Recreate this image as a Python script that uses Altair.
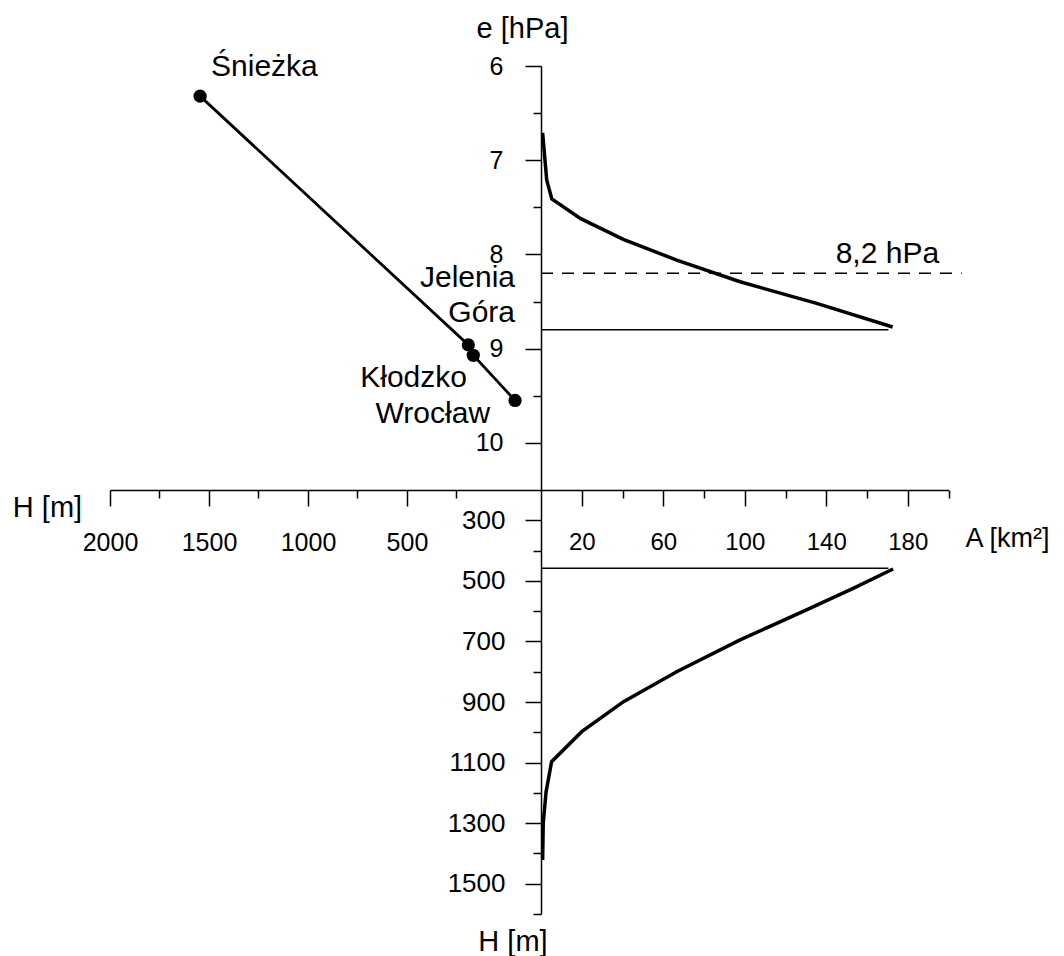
import altair as alt
import pandas as pd

# ---------------- data ----------------
station_names = ["Śnieżka", "Jelenia Góra", "Kłodzko", "Wrocław"]
station_labels = ["Śnieżka", "Jelenia\nGóra", "Kłodzko", "Wrocław"]
station_H = [1545, 190, 165, -46]          # left H axis [m]
station_e = [6.32, 8.96, 9.07, 9.55]       # e [hPa]

ecurve_A = [0.8, 2.8, 5.3, 19.5, 40.4, 66.6, 97.7, 135.3, 172.6]
ecurve_e = [6.71, 7.21, 7.41, 7.62, 7.84, 8.06, 8.29, 8.52, 8.77]

hcurve_A = [172.8, 153.2, 130.3, 97.7, 66.6, 40.5, 20.0, 5.2, 2.5, 1.1, 0.8]
hcurve_H = [461, 525, 596, 695, 800, 899, 998, 1097, 1196, 1300, 1422]

e_level = [8.8]
e_level_A = [0, 170.5]
h_level = [458]
h_level_A = [0, 170.5]
e_ref = [8.2]
e_ref_A = [0, 206.5]
e_ref_label = ["8,2 hPa"]
e_ref_label_A = [170]

# tick values
e_major = [6, 7, 8, 9, 10]
e_minor = [6.5, 7.5, 8.5, 9.5]
hl_major = [2000, 1500, 1000, 500]
hl_minor = [1750, 1250, 750, 250]
a_major = [20, 60, 100, 140, 180]
a_minor = [40, 80, 120, 160, 200]
hb_major = [300, 500, 700, 900, 1100, 1300, 1500]
hb_minor = [400, 600, 800, 1000, 1200, 1400, 1600]

# ---------------- layout ----------------
W, HT = 1048, 948
FONT = "Liberation Sans"
AX_Y = 482      # horizontal axis position
AX_X = 533      # vertical axis position

sc_hl = alt.Scale(domain=[2000, -177], range=[102, AX_X], zero=False, nice=False)
sc_e = alt.Scale(domain=[6, 10.5], range=[58, AX_Y], zero=False, nice=False)
sc_a = alt.Scale(domain=[0, 200], range=[AX_X, 940.5], zero=False, nice=False)
sc_hb = alt.Scale(domain=[200, 1600], range=[AX_Y, 906], zero=False, nice=False)


def xaxis(values, size, labels, domain, lab_size=25, **kw):
    return alt.Axis(orient="bottom", offset=AX_Y - HT, values=values, tickSize=size,
                    tickWidth=1.5, tickColor="black", domain=domain, domainWidth=1.5,
                    domainColor="black", labels=labels, grid=False, format="d",
                    labelFont=FONT, labelFontSize=lab_size, labelColor="black",
                    labelPadding=24, labelFlush=False, labelOverlap=False,
                    titleFont=FONT, titleFontWeight="normal",
                    titleColor="black", titleAngle=0, **kw)


def yaxis(values, size, labels, domain, lab_size=25, pad=22, **kw):
    return alt.Axis(orient="left", offset=-AX_X, values=values, tickSize=size,
                    tickWidth=1.5, tickColor="black", domain=domain, domainWidth=1.5,
                    domainColor="black", labels=labels, grid=False, format="d",
                    labelFont=FONT, labelFontSize=lab_size, labelColor="black",
                    labelPadding=pad, labelFlush=False, labelOverlap=False,
                    titleFont=FONT, titleFontWeight="normal",
                    titleColor="black", titleAngle=0, **kw)


ax_hl_major = xaxis(hl_major, 16, True, True, title="H [m]", titleX=39,
                    titleY=26.7, titleAlign="center", titleBaseline="alphabetic",
                    titleFontSize=29)
ax_hl_minor = xaxis(hl_minor, 8, False, False, title=None)
ax_a_major = xaxis(a_major, 16, True, True, lab_size=24, title="A [km²]",
                   titleX=957, titleY=56.7, titleAlign="left",
                   titleBaseline="alphabetic", titleFontSize=27)
ax_a_minor = xaxis(a_minor, 8, False, False, title=None)
ax_e_major = yaxis(e_major, 16, True, True, title="e [hPa]", titleX=-19,
                   titleY=29.5, titleAlign="center", titleBaseline="alphabetic",
                   titleFontSize=29)
ax_e_minor = yaxis(e_minor, 8, False, False, title=None)
ax_hb_major = yaxis(hb_major, 16, True, True, lab_size=26, pad=20, title="H [m]",
                    titleX=-28.5, titleY=942, titleAlign="center",
                    titleBaseline="alphabetic", titleFontSize=29)
ax_hb_minor = yaxis(hb_minor, 8, False, False, title=None)

st = pd.DataFrame({"name": station_names, "label": station_labels,
                   "H": station_H, "e": station_e})
ec = pd.DataFrame({"A": ecurve_A, "e": ecurve_e})
hc = pd.DataFrame({"A": hcurve_A, "H": hcurve_H})
el = pd.DataFrame({"A0": [e_level_A[0]], "A1": [e_level_A[1]], "e": e_level})
hl = pd.DataFrame({"A0": [h_level_A[0]], "A1": [h_level_A[1]], "H": h_level})
er = pd.DataFrame({"A0": [e_ref_A[0]], "A1": [e_ref_A[1]], "e": e_ref})
erl = pd.DataFrame({"A": e_ref_label_A, "e": e_ref, "t": e_ref_label})

layers = []

layers.append(alt.Chart(st).mark_line(color="black", strokeWidth=2.8).encode(
    x=alt.X("H:Q", scale=sc_hl, axis=ax_hl_major),
    y=alt.Y("e:Q", scale=sc_e, axis=ax_e_major)))

layers.append(alt.Chart(st).mark_circle(color="black", size=175, opacity=1).encode(
    x=alt.X("H:Q", scale=sc_hl, axis=ax_hl_minor),
    y=alt.Y("e:Q", scale=sc_e, axis=ax_e_minor)))

label_style = {
    "Śnieżka": dict(align="left", dx=11, dy=-20),
    "Jelenia Góra": dict(align="right", dx=46.7, dy=-58.3),
    "Kłodzko": dict(align="right", dx=-6.3, dy=31.7),
    "Wrocław": dict(align="right", dx=-25, dy=22.7),
}
for nm in station_names:
    layers.append(alt.Chart(st).transform_filter(alt.datum.name == nm).mark_text(
        font=FONT, fontSize=30, color="black", baseline="alphabetic",
        lineBreak="\n", lineHeight=35, **label_style[nm]).encode(
        x=alt.X("H:Q", scale=sc_hl, axis=None),
        y=alt.Y("e:Q", scale=sc_e, axis=None),
        text="label:N"))

layers.append(alt.Chart(ec).mark_line(color="black", strokeWidth=3.5).encode(
    x=alt.X("A:Q", scale=sc_a, axis=ax_a_major),
    y=alt.Y("e:Q", scale=sc_e, axis=None)))

layers.append(alt.Chart(el).mark_rule(color="black", strokeWidth=1.5).encode(
    x=alt.X("A0:Q", scale=sc_a, axis=ax_a_minor), x2="A1:Q",
    y=alt.Y("e:Q", scale=sc_e, axis=None)))

layers.append(alt.Chart(er).mark_rule(color="black", strokeWidth=1.5,
                                      strokeDash=[12, 9]).encode(
    x=alt.X("A0:Q", scale=sc_a, axis=None), x2="A1:Q",
    y=alt.Y("e:Q", scale=sc_e, axis=None)))

layers.append(alt.Chart(erl).mark_text(font=FONT, fontSize=30, color="black",
                                       align="center", baseline="alphabetic",
                                       dy=-10).encode(
    x=alt.X("A:Q", scale=sc_a, axis=None),
    y=alt.Y("e:Q", scale=sc_e, axis=None),
    text="t:N"))

layers.append(alt.Chart(hc).mark_line(color="black", strokeWidth=3.5).encode(
    x=alt.X("A:Q", scale=sc_a, axis=None),
    y=alt.Y("H:Q", scale=sc_hb, axis=ax_hb_major)))

layers.append(alt.Chart(hl).mark_rule(color="black", strokeWidth=1.5).encode(
    x=alt.X("A0:Q", scale=sc_a, axis=None), x2="A1:Q",
    y=alt.Y("H:Q", scale=sc_hb, axis=ax_hb_minor)))

chart = alt.layer(*layers).resolve_scale(
    x="independent", y="independent"
).properties(
    width=W, height=HT, padding=0,
    autosize=alt.AutoSizeParams(type="none"),
    background="white",
).configure_view(stroke=None)

chart.save("out.html", embed_options={"renderer": "svg", "actions": False})
